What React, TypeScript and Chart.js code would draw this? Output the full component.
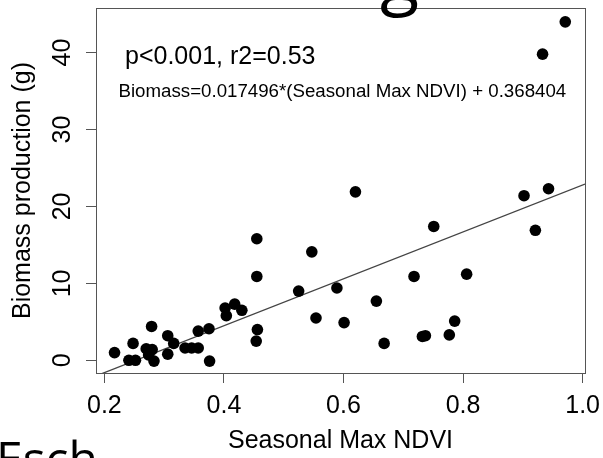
import React, { useEffect, useRef } from 'react';
import { Chart, registerables } from 'chart.js';

Chart.register(...registerables);

// Scatter observations: seasonal max NDVI vs biomass production (g)
const ndvi = [
  0.217, 0.248, 0.241, 0.252, 0.279, 0.270, 0.280, 0.274, 0.283, 0.306,
  0.316, 0.306, 0.335, 0.346, 0.357, 0.357, 0.375, 0.376, 0.402, 0.404,
  0.418, 0.430, 0.455, 0.455, 0.456, 0.454, 0.525, 0.547, 0.554, 0.589,
  0.601, 0.620, 0.655, 0.668, 0.718, 0.751, 0.732, 0.737, 0.777, 0.786,
  0.806, 0.902, 0.943, 0.921, 0.971, 0.933,
];
const biomass = [
  1.0, 2.2, 0.0, 0.0, 4.4, 1.5, 1.4, 0.7, -0.1, 3.2,
  2.2, 0.8, 1.6, 1.6, 1.6, 3.8, 4.1, -0.1, 6.8, 5.8,
  7.3, 6.5, 15.8, 10.9, 4.0, 2.5, 9.0, 14.1, 5.5, 9.4,
  4.9, 21.9, 7.7, 2.2, 10.9, 17.4, 3.1, 3.2, 3.3, 5.1,
  11.2, 21.4, 22.3, 16.9, 44.0, 39.8,
];

// Fitted regression line endpoints
const fitX = [0.186, 1.004];
const fitY = [-2.03, 22.92];

const xTicks = [0.2, 0.4, 0.6, 0.8, 1.0];
const yTicks = [0, 10, 20, 30, 40];
const xRange = [0.186, 1.004];
const yRange = [-1.65, 45.8];

const statText = 'p<0.001, r2=0.53';
const eqText = 'Biomass=0.017496*(Seasonal Max NDVI) + 0.368404';
const xTitle = 'Seasonal Max NDVI';
const yTitle = 'Biomass production (g)';
const topFragment = 'g';
const bottomFragment = 'Esch';

const FONT = '"Liberation Sans", Arial, Helvetica, sans-serif';

const overlayPlugin = {
  id: 'overlay',
  afterDraw(chart: any) {
    const { ctx, chartArea: a } = chart;
    ctx.save();
    ctx.strokeStyle = '#555';
    ctx.lineWidth = 1;
    ctx.strokeRect(Math.round(a.left) + 0.5, Math.round(a.top) + 0.5, Math.round(a.right - a.left), Math.round(a.bottom - a.top));
    ctx.fillStyle = '#000';
    ctx.textBaseline = 'alphabetic';
    ctx.textAlign = 'left';
    ctx.font = `25px ${FONT}`;
    ctx.fillText(statText, 125, 63.5);
    ctx.font = `18.7px ${FONT}`;
    ctx.fillText(eqText, 118.5, 96.7);
    // cropped fragments of surrounding slide text
    ctx.font = `72px "Open Sans", sans-serif`;
    ctx.fillText(topFragment, 380, 1);
    ctx.font = `48px "Open Sans", sans-serif`;
    ctx.fillText(bottomFragment, -4, 476);
    ctx.restore();
  },
};

export default function App() {
  const ref = useRef<HTMLCanvasElement | null>(null);

  useEffect(() => {
    if (!ref.current) return;
    const points = ndvi.map((x, i) => ({ x, y: biomass[i] }));
    const line = fitX.map((x, i) => ({ x, y: fitY[i] }));
    const tickFont = { family: FONT, size: 25 };
    const chart = new Chart(ref.current, {
      type: 'scatter',
      data: {
        datasets: [
          {
            data: points,
            backgroundColor: '#000',
            borderColor: '#000',
            borderWidth: 0,
            pointRadius: 5.8,
            pointHoverRadius: 5.8,
          },
          {
            data: line,
            showLine: true,
            borderColor: '#444',
            borderWidth: 1.3,
            pointRadius: 0,
            pointHoverRadius: 0,
          } as any,
        ],
      },
      plugins: [overlayPlugin],
      options: {
        animation: false,
        responsive: false,
        devicePixelRatio: 1,
        events: [],
        layout: { padding: { top: 8, right: 18, left: 0, bottom: 0 } },
        plugins: { legend: { display: false }, tooltip: { enabled: false } },
        scales: {
          x: {
            type: 'linear',
            min: xRange[0],
            max: xRange[1],
            afterBuildTicks: (s: any) => { s.ticks = xTicks.map((v) => ({ value: v })); },
            afterFit: (s: any) => { s.height = 85; s.paddingLeft = 0; s.paddingRight = 0; },
            border: { display: false },
            grid: { display: true, drawOnChartArea: false, drawTicks: true, tickLength: 10, color: '#555', lineWidth: 1 },
            ticks: {
              autoSkip: false,
              maxRotation: 0,
              minRotation: 0,
              padding: 8,
              color: '#000',
              font: tickFont,
              callback: (v: any) => Number(v).toFixed(1),
            },
            title: {
              display: true,
              text: xTitle,
              color: '#000',
              font: tickFont,
              padding: { top: 0, bottom: 2 },
            },
          },
          y: {
            type: 'linear',
            min: yRange[0],
            max: yRange[1],
            afterBuildTicks: (s: any) => { s.ticks = yTicks.map((v) => ({ value: v })); },
            afterFit: (s: any) => { s.width = 96; s.paddingTop = 0; s.paddingBottom = 0; },
            border: { display: false },
            grid: { display: true, drawOnChartArea: false, drawTicks: true, tickLength: 10, color: '#555', lineWidth: 1 },
            ticks: {
              autoSkip: false,
              minRotation: 90,
              maxRotation: 90,
              crossAlign: 'center',
              padding: 9,
              color: '#000',
              font: tickFont,
              callback: (v: any) => String(v),
            },
            title: {
              display: true,
              text: yTitle,
              color: '#000',
              font: tickFont,
              padding: { top: 8, bottom: 0 },
            },
          },
        },
      } as any,
    });
    return () => chart.destroy();
  }, []);

  return (
    <div style={{ position: 'absolute', left: 0, top: 0, width: 603, height: 458, background: '#fff' }}>
      <canvas ref={ref} width={603} height={458} style={{ width: 603, height: 458, display: 'block' }} />
    </div>
  );
}
